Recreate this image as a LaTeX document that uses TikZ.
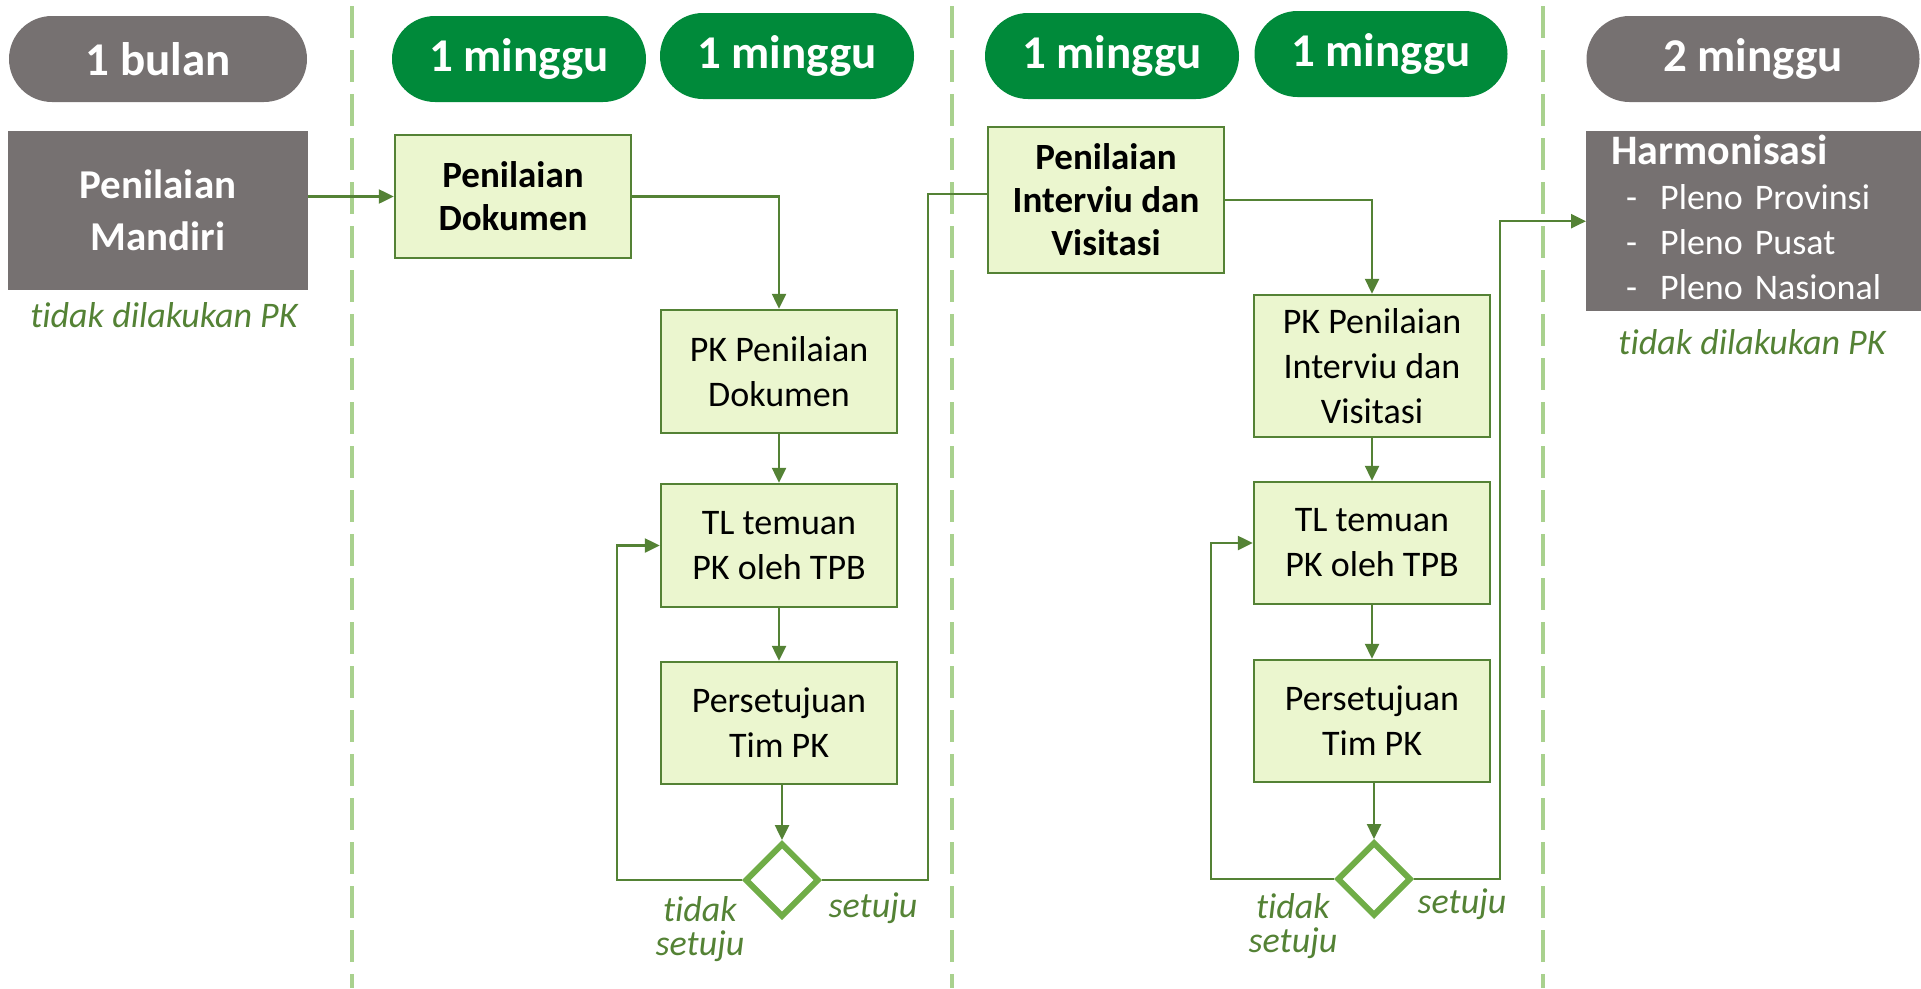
\documentclass[tikz,border=0pt]{standalone}
\usepackage{fontspec}
\setmainfont{Carlito}[Ligatures=NoCommon]
\usepackage{tikz}
\usetikzlibrary{arrows.meta,shapes.geometric}

\definecolor{pkgray}{HTML}{767171}
\definecolor{pkgreen}{HTML}{008A3A}
\definecolor{pkline}{HTML}{548235}
\definecolor{pkfill}{HTML}{EBF6CF}
\definecolor{pkdash}{HTML}{A9D18E}
\definecolor{pkdia}{HTML}{70AD47}

\begin{document}
\begin{tikzpicture}[x=1pt, y=-1pt,
    pill/.style={rounded corners=43pt, minimum height=86pt, inner sep=0pt, text=white, font=\fontsize{47}{50}\selectfont\bfseries},
    proc/.style={draw=pkline, line width=2.5pt, fill=pkfill, minimum width=236pt, minimum height=123pt, inner sep=0pt, align=center, font=\fontsize{36}{45}\selectfont},
    procb/.style={proc, font=\fontsize{37}{43}\selectfont\bfseries},
    greybox/.style={fill=pkgray, text=white, inner sep=0pt},
    note/.style={text=pkline, inner sep=0pt, align=center, font=\fontsize{36}{34}\selectfont\itshape},
    check/.style={diamond, draw=pkdia, fill=white, line width=6pt, minimum width=74pt, minimum height=74pt, inner sep=0pt},
    conn/.style={pkline, line width=2.5pt},
    arr/.style={conn, -{Triangle[length=15pt, width=14pt]}},
    lane/.style={pkdash, line width=4pt, dash pattern=on 32pt off 12pt}]
    \useasboundingbox (0,0) rectangle (1921,988);

    \foreach \x in {352,952,1543}
        \draw[lane] (\x,6) -- (\x,988);

    \node[pill, fill=pkgray, minimum width=298pt] (dur1) at (158,59) {1 bulan};
    \node[pill, fill=pkgreen, minimum width=254pt] (dur2) at (519,59) {1 minggu};
    \node[pill, fill=pkgreen, minimum width=254pt] (dur3) at (787,56) {1 minggu};
    \node[pill, fill=pkgreen, minimum width=254pt] (dur4) at (1112,56) {1 minggu};
    \node[pill, fill=pkgreen, minimum width=253pt] (dur5) at (1381,54) {1 minggu};
    \node[pill, fill=pkgray, minimum width=333pt] (dur6) at (1753,59) {2 minggu};

    \node[greybox, minimum width=300pt, minimum height=159pt, align=center, font=\fontsize{41}{52}\selectfont\bfseries] (mandiri) at (158,210.5) {Penilaian\\Mandiri};
    \node[note, anchor=base] (skip1) at (164,327) {tidak dilakukan PK};

    \node[procb] (dok) at (513,196.5) {Penilaian\\Dokumen};
    \node[proc] (pkdok) at (779,371.5) {PK Penilaian\\Dokumen};
    \node[proc] (tl1) at (779,545.5) {TL temuan\\PK oleh TPB};
    \node[proc, minimum height=122pt] (ok1) at (779,723) {Persetujuan\\Tim PK};
    \node[check] (c1) at (782,880) {};
    \node[note, anchor=north] (no1) at (700,896) {tidak\\setuju};
    \node[note, anchor=base] (yes1) at (873,917) {setuju};

    \node[procb, minimum height=146pt] (int) at (1106,200) {Penilaian\\Interviu dan\\Visitasi};
    \node[proc, minimum height=142pt] (pkint) at (1372,366) {PK Penilaian\\Interviu dan\\Visitasi};
    \node[proc, minimum height=122pt] (tl2) at (1372,543) {TL temuan\\PK oleh TPB};
    \node[proc, minimum height=122pt] (ok2) at (1372,721) {Persetujuan\\Tim PK};
    \node[check] (c2) at (1374,879) {};
    \node[note, anchor=north] (no2) at (1293,893) {tidak\\setuju};
    \node[note, anchor=base] (yes2) at (1462,913) {setuju};

    \node[greybox, anchor=north west, minimum width=335pt, minimum height=180pt, inner xsep=25pt, text width=285pt, align=left, font=\fontsize{36}{45}\selectfont] (harm) at (1586,131)
        {{\fontsize{42}{45}\selectfont\bfseries Harmonisasi}\\
         \hspace*{15pt}\makebox[34pt][l]{-}Pleno Provinsi\\
         \hspace*{15pt}\makebox[34pt][l]{-}Pleno Pusat\\
         \hspace*{15pt}\makebox[34pt][l]{-}Pleno Nasional\rule[-8pt]{0pt}{8pt}};
    \node[note, anchor=base] (skip2) at (1752,354) {tidak dilakukan PK};

    \coordinate (back1) at (617,880);
    \coordinate (fwd1) at (928,880);
    \coordinate (back2) at (1211,879);
    \coordinate (fwd2) at (1500,879);

    \draw[arr] (mandiri.east |- dok.west) -- (dok.west);
    \draw[arr] (dok.east) -| (pkdok.north);
    \draw[arr] (pkdok) -- (tl1);
    \draw[arr] (tl1) -- (ok1);
    \draw[arr] (ok1.south -| c1.north) -- (c1.north);
    \draw[arr] (c1.west) -- (back1) |- (tl1.west);
    \draw[conn] (c1.east) -- (fwd1) |- ([yshift=6pt]int.west);

    \draw[arr] (int.east) -| (pkint.north);
    \draw[arr] (pkint) -- (tl2);
    \draw[arr] (tl2) -- (ok2);
    \draw[arr] (ok2.south -| c2.north) -- (c2.north);
    \draw[arr] (c2.west) -- (back2) |- (tl2.west);
    \draw[arr] (c2.east) -- (fwd2) |- (harm.west);
\end{tikzpicture}
\end{document}
